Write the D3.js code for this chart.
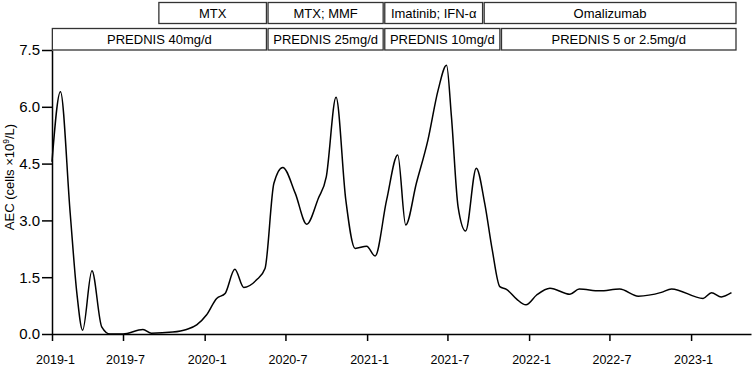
<!DOCTYPE html>
<html>
<head>
<meta charset="utf-8">
<script src="https://cdn.jsdelivr.net/npm/d3@7"></script>
<style>
  body { margin: 0; background: #fff; }
  svg { font-family: Arial, "Liberation Sans", sans-serif; }
</style>
</head>
<body>
<div id="container"></div>
<script>
'use strict';

const width = 754,
      height = 367,
      margin = {top: 50, bottom: 33, right: 3, left: 52};

// AEC readings (cells x10^9/L) by date
const dates = [
  "2019-01-22", "2019-02-10", "2019-03-04", "2019-03-19", "2019-04-01", "2019-04-22",
  "2019-05-14", "2019-06-02", "2019-07-01", "2019-08-15", "2019-09-03", "2019-10-21",
  "2019-11-21", "2019-12-14", "2020-01-05", "2020-01-28", "2020-02-16", "2020-03-09",
  "2020-03-29", "2020-04-27", "2020-05-16", "2020-06-05", "2020-06-25", "2020-07-23",
  "2020-08-18", "2020-09-13", "2020-10-01", "2020-10-23", "2020-11-14", "2020-12-05",
  "2020-12-31", "2021-01-19", "2021-02-14", "2021-03-11", "2021-03-29", "2021-04-22",
  "2021-05-18", "2021-06-10", "2021-06-29", "2021-07-10", "2021-07-25", "2021-08-11",
  "2021-09-04", "2021-09-23", "2021-10-10", "2021-10-27", "2021-11-11", "2021-12-04",
  "2021-12-25", "2022-01-18", "2022-02-17", "2022-04-03", "2022-04-24", "2022-06-09",
  "2022-07-24", "2022-09-04", "2022-10-26", "2022-11-18", "2023-01-28", "2023-02-16",
  "2023-03-10", "2023-04-02"
];
const aec = [
  4.55, 6.40, 3.19, 1.08, 0.10, 1.67,
  0.19, 0.00, 0.00, 0.12, 0.02, 0.05,
  0.12, 0.24, 0.50, 0.94, 1.07, 1.71,
  1.23, 1.43, 1.73, 3.98, 4.40, 3.72,
  2.90, 3.58, 4.15, 6.25, 3.54, 2.26,
  2.32, 2.06, 3.54, 4.73, 2.88, 3.98,
  5.12, 6.44, 7.10, 5.74, 3.36, 2.72,
  4.38, 3.45, 2.22, 1.25, 1.18, 0.92,
  0.77, 1.03, 1.21, 1.05, 1.19, 1.14,
  1.19, 1.00, 1.10, 1.19, 0.94, 1.09,
  0.98, 1.09
];

// treatment periods (upper row) and prednisone doses (lower row)
const drugLabels = ["MTX", "MTX; MMF", "Imatinib; IFN-α", "Omalizumab"];
const drugBounds = ["2019-09-18", "2020-05-21", "2021-02-08", "2021-09-20", "2023-04-14"];
const doseLabels = ["PREDNIS 40mg/d", "PREDNIS 25mg/d", "PREDNIS 10mg/d", "PREDNIS 5 or 2.5mg/d"];
const doseBounds = ["2019-01-21", "2020-05-21", "2021-02-08", "2021-10-29", "2023-04-14"];

const yTicks = [0, 1.5, 3.0, 4.5, 6.0, 7.5];
const xTickDates = ["2019-01-22", "2019-07-01", "2020-01-01", "2020-07-01", "2021-01-01",
                    "2021-07-01", "2022-01-01", "2022-07-01", "2023-01-01"];
const xTickLabels = ["2019-1", "2019-7", "2020-1", "2020-7", "2021-1",
                     "2021-7", "2022-1", "2022-7", "2023-1"];

const parse = d3.utcParse("%Y-%m-%d");
const data = dates.map((d, i) => ({date: parse(d), value: aec[i]}));

const xScale = d3.scaleUtc()
  .domain([parse("2019-01-22"), parse("2023-05-16")])
  .range([margin.left, width - margin.right]);

const yScale = d3.scaleLinear()
  .domain([0, 7.5])
  .range([height - margin.bottom, margin.top]);

const svg = d3.select("#container")
  .append("svg")
  .attr("width", width)
  .attr("height", height);

// x axis
const xAxis = d3.axisBottom(xScale)
  .tickValues(xTickDates.map(parse))
  .tickFormat((d, i) => xTickLabels[i])
  .tickSize(7)
  .tickPadding(14)
  .tickSizeOuter(0);

const gx = svg.append("g")
  .attr("transform", `translate(0, ${height - margin.bottom})`)
  .call(xAxis);
gx.select(".domain").attr("stroke", "#000").attr("stroke-width", 1.5);
gx.selectAll(".tick line").attr("stroke-width", 1.5);
gx.selectAll(".tick text")
  .attr("font-size", 12.5)
  .attr("fill", "#000")
  .attr("dx", (d, i) => i === 0 ? 3 : 2);

// y axis
const yAxis = d3.axisLeft(yScale)
  .tickValues(yTicks)
  .tickFormat(d3.format(".1f"))
  .tickSize(10)
  .tickPadding(2)
  .tickSizeOuter(0);

const gy = svg.append("g")
  .attr("transform", `translate(${margin.left}, 0)`)
  .call(yAxis);
gy.select(".domain").attr("stroke", "#000").attr("stroke-width", 1.5);
gy.selectAll(".tick line").attr("stroke-width", 1.5);
gy.selectAll(".tick text")
  .attr("font-size", 15)
  .attr("fill", "#000");

// y axis title
const yTitle = svg.append("text")
  .attr("transform", "translate(14, 177) rotate(-90)")
  .attr("text-anchor", "middle")
  .attr("font-size", 13)
  .attr("fill", "#000");
yTitle.append("tspan").text("AEC (cells ×10");
yTitle.append("tspan").attr("font-size", 8.5).attr("dy", -5.5).text("9");
yTitle.append("tspan").attr("dy", 5.5).text("/L)");

// AEC curve
const line = d3.line()
  .x(d => xScale(d.date))
  .y(d => yScale(d.value))
  .curve(d3.curveMonotoneX);

svg.append("path")
  .datum(data)
  .attr("fill", "none")
  .attr("stroke", "#000")
  .attr("stroke-width", 1.5)
  .attr("d", line);

// treatment boxes
function drawRow(labels, bounds, y0, y1) {
  const rows = labels.map((l, i) => ({
    label: l,
    x0: xScale(parse(bounds[i])) + 0.8,
    x1: xScale(parse(bounds[i + 1])) - 0.8
  }));
  const g = svg.append("g");
  g.selectAll("rect")
    .data(rows)
    .join("rect")
    .attr("x", d => d.x0)
    .attr("y", y0)
    .attr("width", d => d.x1 - d.x0)
    .attr("height", y1 - y0)
    .attr("fill", "#fff")
    .attr("stroke", "#333")
    .attr("stroke-width", 1.3);
  g.selectAll("text")
    .data(rows)
    .join("text")
    .attr("x", d => (d.x0 + d.x1) / 2)
    .attr("y", (y0 + y1) / 2)
    .attr("dy", "0.36em")
    .attr("text-anchor", "middle")
    .attr("font-size", 13)
    .attr("fill", "#000")
    .text(d => d.label);
}

drawRow(drugLabels, drugBounds, 2.5, 23.5);
drawRow(doseLabels, doseBounds, 28.5, 50);
</script>
</body>
</html>
